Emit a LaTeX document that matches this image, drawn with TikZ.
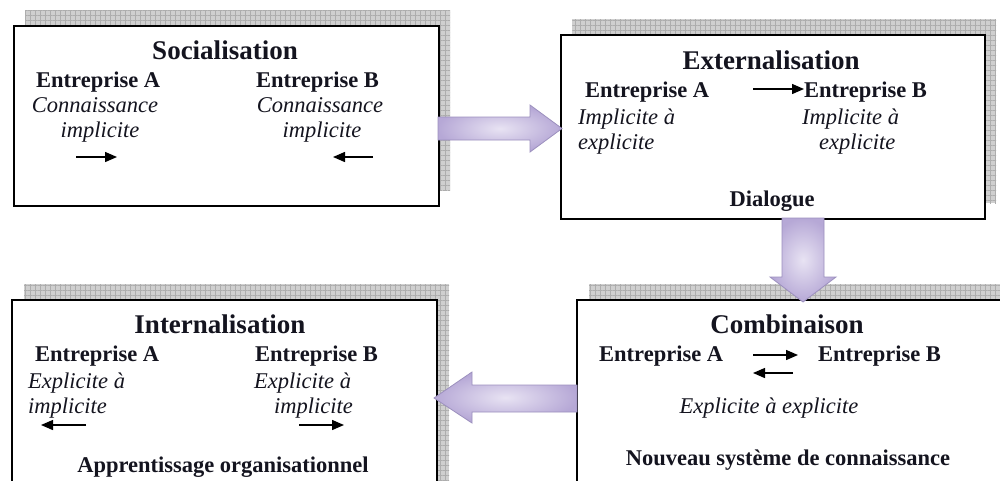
\documentclass[tikz,border=0pt]{standalone}
\usepackage{fontspec}
\setmainfont{Liberation Serif}
\usetikzlibrary{arrows.meta,patterns.meta}
\definecolor{ink}{HTML}{14141F}
\definecolor{shadowgray}{HTML}{CFCFCF}
\definecolor{gridgray}{HTML}{ADADAD}
\definecolor{lavlight}{HTML}{E8E3F3}
\definecolor{lavdark}{HTML}{B6A8D6}
\definecolor{lavedge}{HTML}{9C90BE}
\tikzset{
  box/.style={draw=black, line width=2.2pt, fill=white, rectangle, inner sep=0pt, anchor=north west},
  shadowbox/.style={fill=shadowgray},
  shadowgrid/.style={pattern={Hatch[angle=0,distance=5pt,line width=0.5pt]}, pattern color=gridgray},
  ttl/.style={font=\fontsize{27}{30}\selectfont\bfseries, text=ink, inner sep=0pt},
  ent/.style={font=\fontsize{22.5}{25}\selectfont\bfseries, text=ink, inner sep=0pt},
  itl/.style={font=\fontsize{22.5}{25}\selectfont\itshape, text=ink, inner sep=0pt},
  sarrow/.style={draw=black, line width=1.4pt, -{Triangle[length=12pt,width=10pt]}},
  bigarrow/.style={draw=lavedge, line width=0.8pt, inner color=lavlight, outer color=lavdark},
}
\begin{document}
\begin{tikzpicture}[x=1pt,y=-1pt]
\useasboundingbox (0,0) rectangle (1000,480);
\clip (0,0) rectangle (1000,480);
\fill[white] (0,0) rectangle (1000,480);

% shadows
\foreach \a/\b/\c/\d in {25/10/450/190, 572/19/996/203, 24/284/449/560, 589/284/1100/560}{
  \fill[shadowbox] (\a,\b) rectangle (\c,\d);
  \fill[shadowgrid] (\a,\b) rectangle (\c,\d);
}

% boxes
\node[box, minimum width=425pt, minimum height=180pt] (soc) at (13,25) {};
\node[box, minimum width=424pt, minimum height=184pt] (ext) at (560,34) {};
\node[box, minimum width=425pt, minimum height=250pt] (int) at (11,299) {};
\node[box, minimum width=500pt, minimum height=250pt] (com) at (576,299) {};

% big arrows
\path[bigarrow] (438,117) -- (530,117) -- (530,105) -- (562,128.5) -- (530,152) -- (530,140) -- (438,140) -- cycle;
\path[bigarrow] (782,218) -- (824,218) -- (824,277) -- (836,277) -- (803,302) -- (770,277) -- (782,277) -- cycle;
\path[bigarrow] (577,385) -- (472,385) -- (472,372) -- (434,398) -- (472,423) -- (472,412) -- (577,412) -- cycle;

% Box 1: Socialisation
\node[ttl, anchor=base] (t1) at (225,59) {Socialisation};
\node[ent, anchor=base west] (e1a) at (36,87) {Entreprise A};
\node[ent, anchor=base west] (e1b) at (256,87) {Entreprise B};
\node[itl, anchor=base] (c1a) at (95,112) {Connaissance};
\node[itl, anchor=base] (i1a) at (100,137) {implicite};
\node[itl, anchor=base] (c1b) at (320,112) {Connaissance};
\node[itl, anchor=base] (i1b) at (322,137) {implicite};
\coordinate (s1a) at (76,157); \coordinate (s1b) at (117,157);
\coordinate (s2a) at (373,157); \coordinate (s2b) at (333,157);
\draw[sarrow] (s1a) -- (s1b);
\draw[sarrow] (s2a) -- (s2b);

% Box 2: Externalisation
\node[ttl, anchor=base] (t2) at (771,69) {Externalisation};
\node[ent, anchor=base west] (e2a) at (585,97) {Entreprise A};
\node[ent, anchor=base west] (e2b) at (804,97) {Entreprise B};
\coordinate (x1a) at (753,89);
\draw[sarrow] (x1a) -- (e2b.west |- x1a);
\node[itl, anchor=base west] (p2a) at (578,124) {Implicite à};
\node[itl, anchor=base west] (q2a) at (578,149) {explicite};
\node[itl, anchor=base west] (p2b) at (802,124) {Implicite à};
\node[itl, anchor=base west] (q2b) at (819,149) {explicite};
\node[ent, anchor=base] (d2) at (772,206) {Dialogue};

% Box 3: Internalisation
\node[ttl, anchor=base] (t3) at (220,333) {Internalisation};
\node[ent, anchor=base west] (e3a) at (35,361) {Entreprise A};
\node[ent, anchor=base west] (e3b) at (255,361) {Entreprise B};
\node[itl, anchor=base west] (p3a) at (28,388) {Explicite à};
\node[itl, anchor=base west] (q3a) at (28,413) {implicite};
\node[itl, anchor=base west] (p3b) at (254,388) {Explicite à};
\node[itl, anchor=base west] (q3b) at (274,413) {implicite};
\coordinate (n1a) at (86,425); \coordinate (n1b) at (41,425);
\coordinate (n2a) at (299,425); \coordinate (n2b) at (344,425);
\draw[sarrow] (n1a) -- (n1b);
\draw[sarrow] (n2a) -- (n2b);
\node[ent, anchor=base] (a3) at (223,472) {Apprentissage organisationnel};

% Box 4: Combinaison
\node[ttl, anchor=base] (t4) at (787,333) {Combinaison};
\node[ent, anchor=base west] (e4a) at (599,361) {Entreprise A};
\node[ent, anchor=base west] (e4b) at (818,361) {Entreprise B};
\coordinate (m1a) at (753,355); \coordinate (m1b) at (798,355);
\coordinate (m2a) at (793,373); \coordinate (m2b) at (753,373);
\draw[sarrow] (m1a) -- (m1b);
\draw[sarrow] (m2a) -- (m2b);
\node[itl, anchor=base] (x4) at (769,413) {Explicite à explicite};
\node[ent, anchor=base] (n4) at (788,465) {Nouveau système de connaissance};
\end{tikzpicture}
\end{document}
